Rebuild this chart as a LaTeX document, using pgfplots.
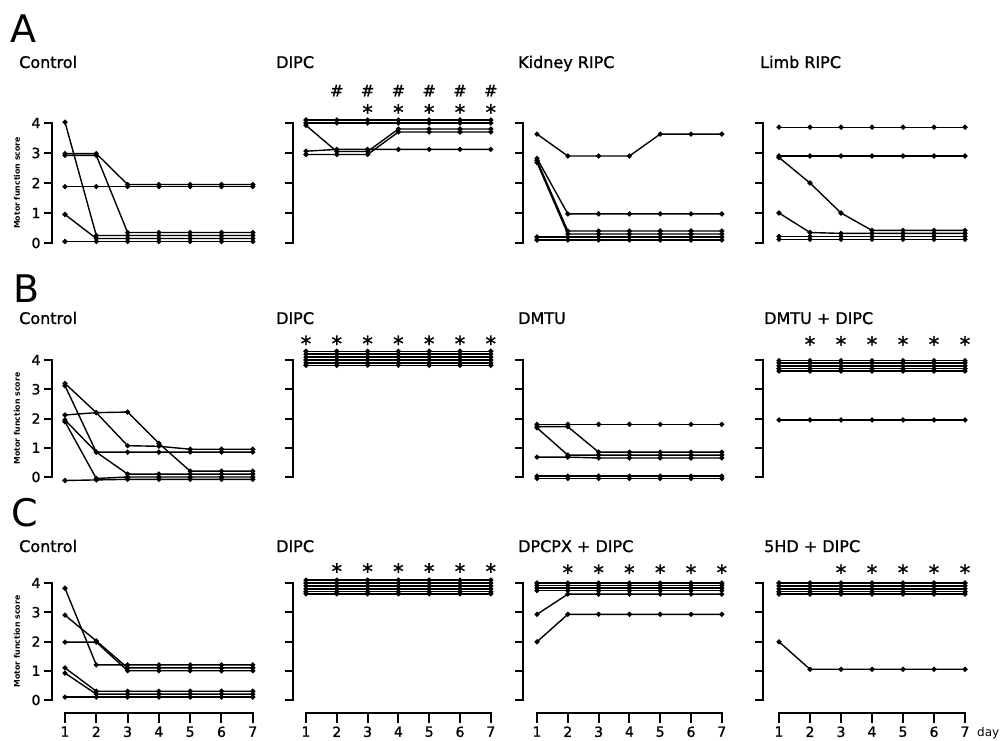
\documentclass[border=0pt]{standalone}
\usepackage{pgfplots}
\pgfplotsset{compat=1.18}
\usepackage{fontspec}
\setmainfont{DejaVu Sans}
\newfontfamily\heavyfam[FakeBold=1.2]{DejaVu Sans}
\newcommand{\titlefont}{\heavyfam\fontsize{16}{18}\selectfont}
\newcommand{\bigfont}{\fontsize{38}{40}\selectfont}
\newcommand{\tickfont}{\heavyfam\fontsize{14}{16}\selectfont}
\newcommand{\xtickfont}{\heavyfam\fontsize{14}{16}\selectfont}
\newcommand{\ylabfont}{\fontsize{7.8}{9}\selectfont\bfseries}
\newcommand{\astfont}{\heavyfam\fontsize{21}{22}\selectfont}
\newcommand{\hashfont}{\heavyfam\fontsize{16}{18}\selectfont}
\newcommand{\flatline}[1]{\addplot coordinates {(1,#1)(2,#1)(3,#1)(4,#1)(5,#1)(6,#1)(7,#1)};}
\newcommand{\astnode}[2]{\node[font=\astfont,inner sep=0pt] at (axis cs:#1,#2) {*};}
\newcommand{\hashnode}[2]{\node[font=\hashfont,inner sep=0pt] at (axis cs:#1,#2) {\#};}
\pgfplotsset{
  panel/.style={scale only axis, anchor=south west, ymin=0, ymax=4, xmax=7,
    hide x axis, axis y line*=left, ytick={0,1,2,3,4}, yticklabels={},
    clip=false, axis line style={line width=2.2pt,-,line cap=rect},
    ytick style={line width=2pt,black}, tick align=outside, major tick length=8pt,
    cycle list={{black, solid, mark=*}},
    every axis plot post/.append style={black, line width=1.4pt, mark=*, mark size=1.8pt,
      mark options={solid,fill=black}}},
  col1/.style={xmin=0.585, width=200.8pt},
  col2/.style={xmin=0.578, width=197.8pt},
  col3/.style={xmin=0.545, width=198.8pt},
  col4/.style={xmin=0.484, width=202pt},
  rowA/.style={height=120pt},
  rowB/.style={height=117pt},
  rowC/.style={height=117pt},
  first/.style={yticklabels={0,1,2,3,4}, yticklabel style={font=\tickfont},
    ylabel={Motor function score},
    ylabel style={font=\ylabfont, at={(axis description cs:-0.175,0.5)}, anchor=center}},
  xax/.style={scale only axis, anchor=south west, hide y axis, axis x line*=bottom,
    axis line style={line width=2.2pt,-,line cap=rect}, xmin=1, xmax=7, ymin=0, ymax=1,
    height=1pt, xtick={1,2,3,4,5,6,7}, xticklabels={1,2,3,4,5,6,7},
    tick align=outside, major tick length=10pt, xtick style={line width=2pt,black},
    xticklabel style={font=\xtickfont}},
}
\begin{document}
\begin{tikzpicture}
\path[use as bounding box] (0pt,0pt) rectangle (1001pt,740pt);
% panel letters and titles
\node[font=\bigfont,anchor=base west,inner sep=0pt] at (10pt,697pt) {A};
\node[font=\bigfont,anchor=base west,inner sep=0pt] at (13pt,437pt) {B};
\node[font=\bigfont,anchor=base west,inner sep=0pt] at (11pt,214pt) {C};
\node[font=\titlefont,anchor=base west,inner sep=0pt] at (19pt,672pt) {Control};
\node[font=\titlefont,anchor=base west,inner sep=0pt] at (276pt,672pt) {DIPC};
\node[font=\titlefont,anchor=base west,inner sep=0pt] at (518pt,672pt) {Kidney RIPC};
\node[font=\titlefont,anchor=base west,inner sep=0pt] at (760pt,672pt) {Limb RIPC};
\node[font=\titlefont,anchor=base west,inner sep=0pt] at (19pt,416pt) {Control};
\node[font=\titlefont,anchor=base west,inner sep=0pt] at (276pt,416pt) {DIPC};
\node[font=\titlefont,anchor=base west,inner sep=0pt] at (518pt,416pt) {DMTU};
\node[font=\titlefont,anchor=base west,inner sep=0pt] at (764pt,416pt) {DMTU + DIPC};
\node[font=\titlefont,anchor=base west,inner sep=0pt] at (19pt,188pt) {Control};
\node[font=\titlefont,anchor=base west,inner sep=0pt] at (276pt,188pt) {DIPC};
\node[font=\titlefont,anchor=base west,inner sep=0pt] at (518pt,188pt) {DPCPX + DIPC};
\node[font=\titlefont,anchor=base west,inner sep=0pt] at (764pt,188pt) {5HD + DIPC};
\node[font=\fontsize{12}{14}\selectfont,anchor=base west,inner sep=0pt] at (977pt,4pt) {day};

% ---------- Row A ----------
\begin{axis}[panel, col1, rowA, first, at={(52pt,497pt)}]
\addplot coordinates {(1,4.03)(2,0.25)(3,0.25)(4,0.25)(5,0.25)(6,0.25)(7,0.25)};
\addplot coordinates {(1,2.98)(2,2.98)(3,1.95)(4,1.95)(5,1.95)(6,1.95)(7,1.95)};
\addplot coordinates {(1,2.92)(2,2.92)(3,0.35)(4,0.35)(5,0.35)(6,0.35)(7,0.35)};
\addplot coordinates {(1,1.88)(2,1.88)(3,1.88)(4,1.88)(5,1.88)(6,1.88)(7,1.88)};
\addplot coordinates {(1,0.95)(2,0.15)(3,0.15)(4,0.15)(5,0.15)(6,0.15)(7,0.15)};
\addplot coordinates {(1,0.05)(2,0.05)(3,0.05)(4,0.05)(5,0.05)(6,0.05)(7,0.05)};
\end{axis}
\begin{axis}[panel, col2, rowA, at={(293pt,497pt)}]
\flatline{4.1}
\flatline{4.0}
\addplot coordinates {(1,3.92)(2,3.05)(3,3.05)(4,3.8)(5,3.8)(6,3.8)(7,3.8)};
\addplot coordinates {(1,2.95)(2,2.95)(3,2.95)(4,3.7)(5,3.7)(6,3.7)(7,3.7)};
\addplot coordinates {(1,3.06)(2,3.12)(3,3.12)(4,3.12)(5,3.12)(6,3.12)(7,3.12)};
\hashnode{2}{5.08}\hashnode{3}{5.08}\hashnode{4}{5.08}\hashnode{5}{5.08}\hashnode{6}{5.08}\hashnode{7}{5.08}
\astnode{3}{4.37}\astnode{4}{4.37}\astnode{5}{4.37}\astnode{6}{4.37}\astnode{7}{4.37}
\end{axis}
\begin{axis}[panel, col3, rowA, at={(523pt,497pt)}]
\addplot coordinates {(1,3.63)(2,2.9)(3,2.9)(4,2.9)(5,3.63)(6,3.63)(7,3.63)};
\addplot coordinates {(1,2.82)(2,0.97)(3,0.97)(4,0.97)(5,0.97)(6,0.97)(7,0.97)};
\addplot coordinates {(1,2.75)(2,0.4)(3,0.4)(4,0.4)(5,0.4)(6,0.4)(7,0.4)};
\addplot coordinates {(1,2.68)(2,0.3)(3,0.3)(4,0.3)(5,0.3)(6,0.3)(7,0.3)};
\flatline{0.2}
\flatline{0.1}
\end{axis}
\begin{axis}[panel, col4, rowA, at={(763pt,497pt)}]
\flatline{3.86}
\flatline{2.9}
\addplot coordinates {(1,2.85)(2,2.0)(3,1.0)(4,0.42)(5,0.42)(6,0.42)(7,0.42)};
\addplot coordinates {(1,1.0)(2,0.35)(3,0.32)(4,0.32)(5,0.32)(6,0.32)(7,0.32)};
\flatline{0.22}
\flatline{0.12}
\end{axis}

% ---------- Row B ----------
\begin{axis}[panel, col1, rowB, first, at={(52pt,263pt)}]
\addplot coordinates {(1,3.2)(2,2.2)(3,2.22)(4,1.15)(5,0.2)(6,0.2)(7,0.2)};
\addplot coordinates {(1,2.12)(2,2.2)(3,1.07)(4,1.05)(5,0.95)(6,0.95)(7,0.95)};
\addplot coordinates {(1,3.12)(2,0.85)(3,0.85)(4,0.85)(5,0.85)(6,0.85)(7,0.85)};
\addplot coordinates {(1,1.95)(2,0.85)(3,0.1)(4,0.1)(5,0.1)(6,0.1)(7,0.1)};
\addplot coordinates {(1,1.89)(2,-0.05)(3,0.0)(4,0.0)(5,0.0)(6,0.0)(7,0.0)};
\addplot coordinates {(1,-0.12)(2,-0.1)(3,-0.08)(4,-0.08)(5,-0.08)(6,-0.08)(7,-0.08)};
\end{axis}
\begin{axis}[panel, col2, rowB, at={(293pt,263pt)}]
\flatline{4.3}
\flatline{4.2}
\flatline{4.1}
\flatline{4.0}
\flatline{3.9}
\flatline{3.82}
\astnode{1}{4.57}\astnode{2}{4.57}\astnode{3}{4.57}\astnode{4}{4.57}\astnode{5}{4.57}\astnode{6}{4.57}\astnode{7}{4.57}
\end{axis}
\begin{axis}[panel, col3, rowB, at={(523pt,263pt)}]
\flatline{1.8}
\addplot coordinates {(1,1.72)(2,1.72)(3,0.85)(4,0.85)(5,0.85)(6,0.85)(7,0.85)};
\addplot coordinates {(1,1.68)(2,0.75)(3,0.75)(4,0.75)(5,0.75)(6,0.75)(7,0.75)};
\addplot coordinates {(1,0.68)(2,0.68)(3,0.65)(4,0.65)(5,0.65)(6,0.65)(7,0.65)};
\flatline{0.03}
\flatline{-0.05}
\end{axis}
\begin{axis}[panel, col4, rowB, at={(763pt,263pt)}]
\flatline{3.98}
\flatline{3.9}
\flatline{3.8}
\flatline{3.7}
\flatline{3.62}
\flatline{1.95}
\astnode{2}{4.55}\astnode{3}{4.55}\astnode{4}{4.55}\astnode{5}{4.55}\astnode{6}{4.55}\astnode{7}{4.55}
\end{axis}

% ---------- Row C ----------
\begin{axis}[panel, col1, rowC, first, at={(52pt,40pt)}]
\addplot coordinates {(1,3.82)(2,1.2)(3,1.2)(4,1.2)(5,1.2)(6,1.2)(7,1.2)};
\addplot coordinates {(1,2.9)(2,2.02)(3,1.1)(4,1.1)(5,1.1)(6,1.1)(7,1.1)};
\addplot coordinates {(1,1.98)(2,1.98)(3,1.0)(4,1.0)(5,1.0)(6,1.0)(7,1.0)};
\addplot coordinates {(1,1.1)(2,0.3)(3,0.3)(4,0.3)(5,0.3)(6,0.3)(7,0.3)};
\addplot coordinates {(1,0.92)(2,0.2)(3,0.2)(4,0.2)(5,0.2)(6,0.2)(7,0.2)};
\flatline{0.1}
\end{axis}
\begin{axis}[panel, col2, rowC, at={(293pt,40pt)}]
\flatline{4.1}
\flatline{4.0}
\flatline{3.9}
\flatline{3.8}
\flatline{3.7}
\flatline{3.63}
\astnode{2}{4.41}\astnode{3}{4.41}\astnode{4}{4.41}\astnode{5}{4.41}\astnode{6}{4.41}\astnode{7}{4.41}
\end{axis}
\begin{axis}[panel, col3, rowC, at={(523pt,40pt)}]
\flatline{4.0}
\flatline{3.92}
\flatline{3.83}
\flatline{3.74}
\addplot coordinates {(1,2.93)(2,3.62)(3,3.62)(4,3.62)(5,3.62)(6,3.62)(7,3.62)};
\addplot coordinates {(1,1.99)(2,2.93)(3,2.93)(4,2.93)(5,2.93)(6,2.93)(7,2.93)};
\astnode{2}{4.37}\astnode{3}{4.37}\astnode{4}{4.37}\astnode{5}{4.37}\astnode{6}{4.37}\astnode{7}{4.37}
\end{axis}
\begin{axis}[panel, col4, rowC, at={(763pt,40pt)}]
\flatline{4.0}
\flatline{3.9}
\flatline{3.8}
\flatline{3.7}
\flatline{3.62}
\addplot coordinates {(1,1.99)(2,1.05)(3,1.05)(4,1.05)(5,1.05)(6,1.05)(7,1.05)};
\astnode{3}{4.37}\astnode{4}{4.37}\astnode{5}{4.37}\astnode{6}{4.37}\astnode{7}{4.37}
\end{axis}

% ---------- bottom x axes ----------
\begin{axis}[xax, width=187.8pt, at={(65pt,27pt)}]\end{axis}
\begin{axis}[xax, width=184.8pt, at={(306pt,27pt)}]\end{axis}
\begin{axis}[xax, width=184.8pt, at={(537pt,27pt)}]\end{axis}
\begin{axis}[xax, width=186pt, at={(779pt,27pt)}]\end{axis}
\end{tikzpicture}
\end{document}
